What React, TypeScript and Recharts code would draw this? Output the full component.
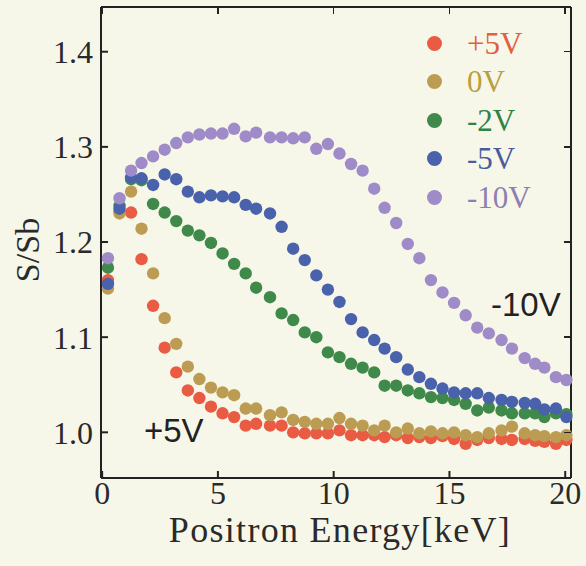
import React from "react";
import {
  CartesianGrid,
  Legend,
  Scatter,
  ScatterChart,
  XAxis,
  YAxis,
} from "recharts";

// positron energy (keV) of each measuring step
const energies = [
  0.25, 0.75, 1.25, 1.7, 2.2, 2.7, 3.2, 3.7, 4.2, 4.7, 5.2, 5.7, 6.2, 6.65,
  7.25, 7.75, 8.25, 8.75, 9.25, 9.75, 10.25, 10.75, 11.25, 11.75, 12.2, 12.7,
  13.2, 13.7, 14.2, 14.7, 15.2, 15.7, 16.2, 16.7, 17.25, 17.7, 18.25, 18.7,
  19.1, 19.6, 20.05,
];

const plus5V = [
  1.16, 1.232, 1.231, 1.182, 1.133, 1.089, 1.063, 1.044, 1.036, 1.027, 1.02,
  1.016, 1.007, 1.009, 1.007, 1.007, 1.0, 0.999, 0.999, 0.999, 1.002, 0.997,
  0.997, 0.997, 0.995, 0.997, 0.994, 0.995, 0.994, 0.996, 0.993, 0.988, 0.992,
  0.994, 0.993, 0.992, 0.993, 0.991, 0.99, 0.988, 0.992,
];

const zeroV = [
  1.151, 1.23, 1.253, 1.214, 1.167, 1.12, 1.093, 1.069, 1.056, 1.047, 1.042,
  1.039, 1.025, 1.025, 1.018, 1.021, 1.013, 1.011, 1.009, 1.009, 1.015, 1.009,
  1.007, 1.002, 1.007, 1.0, 1.004, 0.999, 1.001, 0.999, 1.0, 0.997, 0.995,
  0.999, 1.002, 1.006, 0.999, 0.997, 0.996, 0.995, 0.997,
];

const minus2V = [
  1.173, 1.238, 1.266, 1.265, 1.24, 1.231, 1.222, 1.212, 1.207, 1.199, 1.188,
  1.177, 1.167, 1.152, 1.142, 1.125, 1.118, 1.105, 1.1, 1.084, 1.079, 1.072,
  1.068, 1.063, 1.049, 1.049, 1.044, 1.041, 1.037, 1.036, 1.034, 1.03, 1.023,
  1.026, 1.023, 1.02, 1.02, 1.02, 1.016, 1.02, 1.019,
];

const minus5V = [
  1.156, 1.235, 1.268, 1.267, 1.26, 1.271, 1.266, 1.253, 1.247, 1.249, 1.248,
  1.247, 1.239, 1.235, 1.23, 1.216, 1.193, 1.181, 1.165, 1.15, 1.137, 1.119,
  1.105, 1.097, 1.088, 1.079, 1.066, 1.058, 1.051, 1.046, 1.042, 1.041, 1.041,
  1.036, 1.034, 1.032, 1.031, 1.03, 1.024, 1.025, 1.016,
];

const minus10V = [
  1.183, 1.246, 1.275, 1.283, 1.29, 1.297, 1.304, 1.31, 1.313, 1.314, 1.314,
  1.319, 1.311, 1.315, 1.31, 1.31, 1.309, 1.31, 1.298, 1.303, 1.293, 1.282,
  1.275, 1.256, 1.236, 1.22, 1.198, 1.183, 1.16, 1.147, 1.136, 1.123, 1.11,
  1.104, 1.097, 1.088, 1.078, 1.072, 1.068, 1.058, 1.055,
];

const xTicks = [0, 5, 10, 15, 20];
const yTicks = [1.0, 1.1, 1.2, 1.3, 1.4];
const xDomain = [-0.05, 20.25];
const yDomain = [0.952, 1.447];

const series = [
  { name: "+5V", values: plus5V, dot: "#e95c43", text: "#e0603f" },
  { name: "0V", values: zeroV, dot: "#bb9c52", text: "#b89f3f" },
  { name: "-2V", values: minus2V, dot: "#3f8a4b", text: "#2f8343" },
  { name: "-5V", values: minus5V, dot: "#4962ab", text: "#4a5c9c" },
  { name: "-10V", values: minus10V, dot: "#9f8bc8", text: "#8e80b0" },
];

const serif = "'Liberation Serif', 'Times New Roman', serif";
const sans = "'Liberation Sans', Arial, sans-serif";
const ink = "#222";

const W = 586;
const H = 566;
const margin = { top: 7, right: 15, bottom: 0, left: 0 };
const xAxisHeight = 88;
const yAxisWidth = 101;
// plot box that recharts ends up with for the numbers above
const plot = {
  left: margin.left + yAxisWidth,
  right: W - margin.right,
  top: margin.top,
  bottom: H - xAxisHeight,
};

function toPoints(values: number[]) {
  return energies.map((x, i) => ({ x, y: values[i] }));
}

// keep the legend in the series order, not the order Recharts hands back
function LegendBox() {
  return (
    <div>
      {series.map((s) => (
        <div
          key={s.name}
          style={{ display: "flex", alignItems: "center", height: 38.5 }}
        >
          <span
            style={{
              width: 15,
              height: 15,
              borderRadius: "50%",
              background: s.dot,
              display: "inline-block",
              marginRight: 25,
            }}
          />
          <span
            style={{
              fontFamily: serif,
              fontSize: 31,
              color: s.text,
              lineHeight: 1,
            }}
          >
            {s.name}
          </span>
        </div>
      ))}
    </div>
  );
}

// inward ticks on the top and right sides of the box
function FrameTicks() {
  const plotW = plot.right - plot.left;
  const plotH = plot.bottom - plot.top;
  const px = (v: number) =>
    plot.left + ((v - xDomain[0]) / (xDomain[1] - xDomain[0])) * plotW;
  const py = (v: number) =>
    plot.bottom - ((v - yDomain[0]) / (yDomain[1] - yDomain[0])) * plotH;
  return (
    <>
      {xTicks.map((t) => (
        <div
          key={`t${t}`}
          style={{
            position: "absolute",
            left: px(t) - 0.75,
            top: plot.top,
            width: 1.5,
            height: 7,
            background: ink,
            zIndex: 10,
          }}
        />
      ))}
      {yTicks.map((t) => (
        <div
          key={`r${t}`}
          style={{
            position: "absolute",
            left: plot.right - 7,
            top: py(t) - 0.75,
            width: 7,
            height: 1.5,
            background: ink,
            zIndex: 10,
          }}
        />
      ))}
    </>
  );
}

export default function App() {
  return (
    <div
      style={{
        position: "fixed",
        left: 0,
        top: 0,
        width: W,
        height: H,
        background: "#f7f7e9",
      }}
    >
      <ScatterChart width={W} height={H} margin={margin}>
        {/* only the top and right edges of the box */}
        <CartesianGrid
          horizontalPoints={[plot.top]}
          verticalPoints={[plot.right]}
          stroke={ink}
          strokeWidth={2}
          strokeOpacity={1}
          strokeDasharray="0"
        />
        <XAxis
          dataKey="x"
          type="number"
          domain={xDomain}
          ticks={xTicks}
          height={xAxisHeight}
          stroke={ink}
          strokeWidth={2}
          tickSize={-7}
          tickMargin={10}
          tick={{ fontFamily: serif, fontSize: 32, fill: "#2a2a2a" }}
          label={({ viewBox }: any) => (
            <text
              x={viewBox.x + 239}
              y={viewBox.y + 64}
              textAnchor="middle"
              fontFamily={serif}
              fontSize={36}
              fill="#2a2a2a"
              letterSpacing={1.3}
            >
              Positron Energy[keV]
            </text>
          )}
        />
        <YAxis
          dataKey="y"
          type="number"
          domain={yDomain}
          ticks={yTicks}
          width={yAxisWidth}
          stroke={ink}
          strokeWidth={2}
          tickSize={-7}
          tickMargin={15}
          tickFormatter={(v: number) => v.toFixed(1)}
          tick={{ fontFamily: serif, fontSize: 32, fill: "#2a2a2a" }}
          label={({ viewBox }: any) => (
            <text
              x={27}
              y={viewBox.y + 243}
              textAnchor="middle"
              dominantBaseline="central"
              transform={`rotate(-90, 27, ${viewBox.y + 243})`}
              fontFamily={serif}
              fontSize={34}
              fill="#2a2a2a"
            >
              S/Sb
            </text>
          )}
        />
        <Legend
          layout="vertical"
          align="center"
          verticalAlign="middle"
          wrapperStyle={{ top: 24, left: 427, width: 150 }}
          content={() => <LegendBox />}
        />
        {series.map((s) => (
          <Scatter
            key={s.name}
            name={s.name}
            data={toPoints(s.values)}
            fill={s.dot}
            isAnimationActive={false}
            shape={(p: any) => (
              <circle cx={p.cx} cy={p.cy} r={6.2} fill={s.dot} />
            )}
          />
        ))}
      </ScatterChart>
      <FrameTicks />
      <div
        style={{
          position: "absolute",
          left: 144,
          top: 414,
          fontFamily: sans,
          fontSize: 33,
          color: ink,
          lineHeight: 1,
        }}
      >
        +5V
      </div>
      <div
        style={{
          position: "absolute",
          left: 491,
          top: 288,
          fontFamily: sans,
          fontSize: 33,
          color: ink,
          lineHeight: 1,
        }}
      >
        -10V
      </div>
    </div>
  );
}
